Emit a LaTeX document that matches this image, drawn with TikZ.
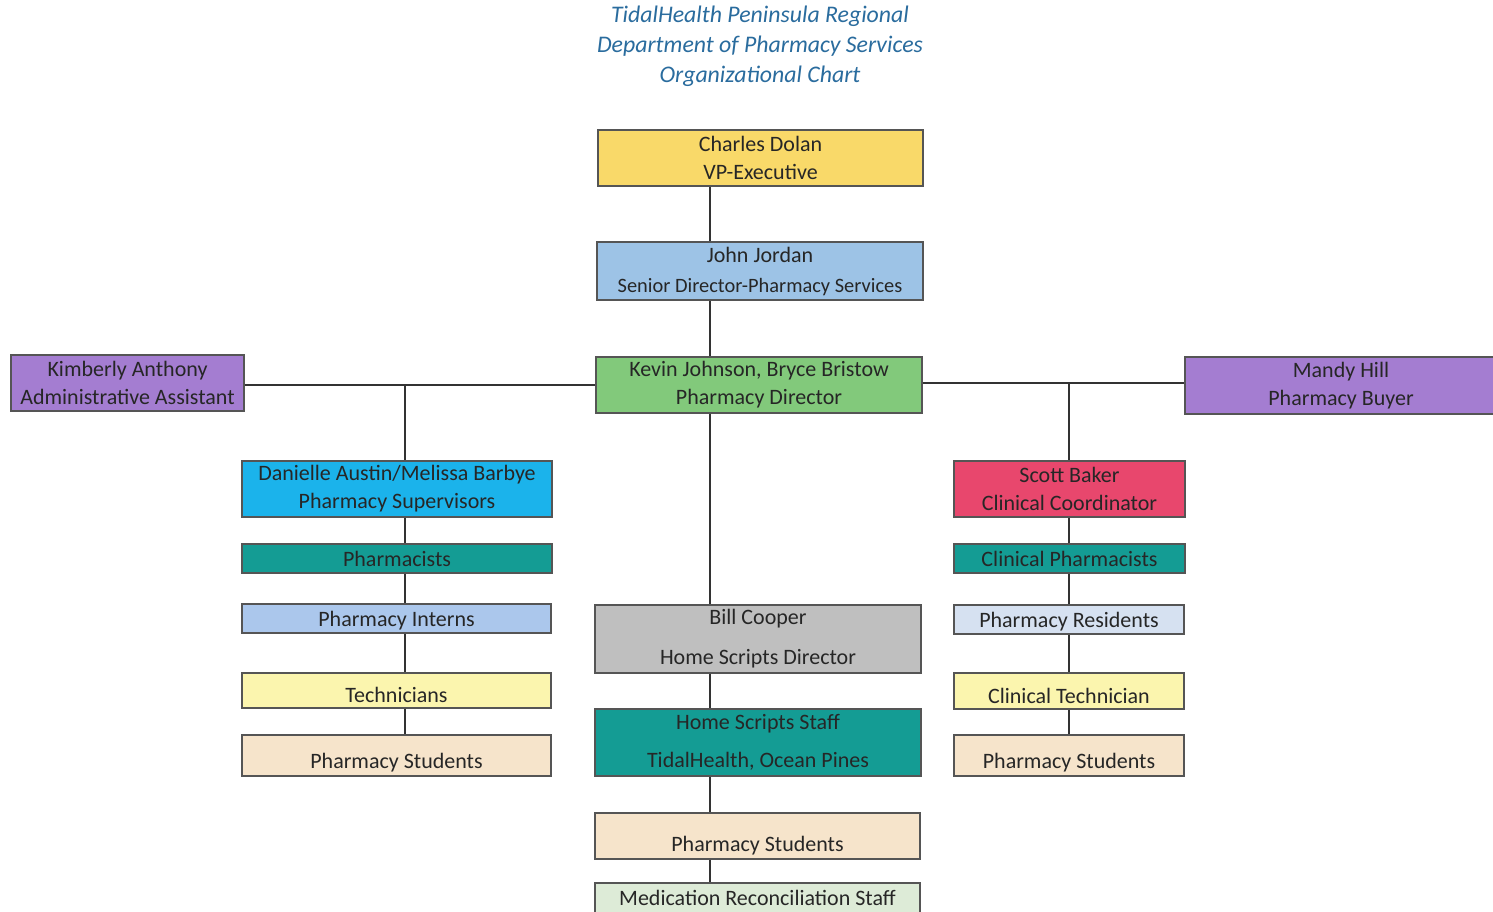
\documentclass[tikz,border=0pt]{standalone}
\usepackage{fontspec}
\setmainfont{Carlito}
\definecolor{cyellow}{HTML}{F9D969}
\definecolor{cjohn}{HTML}{9DC3E6}
\definecolor{cgreen}{HTML}{82C97B}
\definecolor{cpurple}{HTML}{A47DD1}
\definecolor{ccyan}{HTML}{1BB3EB}
\definecolor{cteal}{HTML}{149C94}
\definecolor{cintern}{HTML}{ABC7EC}
\definecolor{ctech}{HTML}{FBF5AE}
\definecolor{cstud}{HTML}{F6E4CB}
\definecolor{cgray}{HTML}{BFBFBF}
\definecolor{cred}{HTML}{E8476D}
\definecolor{cres}{HTML}{D6E1F1}
\definecolor{cmed}{HTML}{DDEBD7}
\definecolor{boxline}{HTML}{555555}
\definecolor{txt}{HTML}{262626}
\definecolor{ctitle}{HTML}{2A6C9E}
\definecolor{wire}{HTML}{333333}
\newcommand\lo[2]{\raisebox{-#1}[\height][\depth]{#2}}
\begin{document}
\begin{tikzpicture}[x=0.5pt,y=-0.5pt,
  box/.style={draw=boxline, line width=0.6pt, inner sep=0pt, align=center,
    font=\fontsize{11}{14}\selectfont, text=txt},
  sz/.style 2 args={minimum width=#1*0.5pt, minimum height=#2*0.5pt},
  wirestyle/.style={draw=wire, line width=1pt},
  titlestyle/.style={align=center, text=ctitle, font=\fontsize{11.9}{15}\selectfont\itshape, inner sep=0pt}]
\useasboundingbox (0,0) rectangle (1493,911);
\clip (0,0) rectangle (1493,911);
\fill[white] (0,0) rectangle (1493,911);

\node[titlestyle] (title) at (760,46) {TidalHealth Peninsula Regional\\Department of Pharmacy Services\\Organizational Chart};

\coordinate (vx) at (710,0);
\coordinate (lx) at (405,0);
\coordinate (rx) at (1069,0);

\node[box, sz={325}{56}, fill=cyellow] (cd) at (760.5,158) {Charles Dolan\\VP-Executive};
\node[box, sz={326}{58}, fill=cjohn] (jj) at (760,271) {John Jordan\\[1pt]{\fontsize{10.2}{14}\selectfont Senior Director-Pharmacy Services}};
\node[box, sz={326}{56}, fill=cgreen] (pd) at (759,385) {Kevin Johnson, Bryce Bristow\\Pharmacy Director};
\node[box, sz={233}{56}, fill=cpurple] (ka) at (127.5,383) {Kimberly Anthony\\Administrative Assistant};
\node[box, sz={312}{57}, fill=cpurple] (mh) at (1341,385.5) {Mandy Hill\\Pharmacy Buyer};

\node[box, sz={310}{56}, fill=ccyan] (sup) at (397,489) {Danielle Austin/Melissa Barbye\\Pharmacy Supervisors};
\node[box, sz={310}{29}, fill=cteal] (ph) at (397,558.5) {Pharmacists};
\node[box, sz={309}{29}, fill=cintern] (pi) at (396.5,618.5) {\lo{1pt}{Pharmacy Interns}};
\node[box, sz={309}{35}, fill=ctech] (te) at (396.5,690.5) {\lo{2pt}{Technicians}};
\node[box, sz={309}{41}, fill=cstud] (ps1) at (396.5,755.5) {\lo{3.5pt}{Pharmacy Students}};

\node[box, sz={326}{68}, fill=cgray] (bc) at (758,639) {Bill Cooper\\[6pt]Home Scripts Director};
\node[box, sz={326}{67}, fill=cteal] (hs) at (758,742.5) {Home Scripts Staff\\[5pt]TidalHealth, Ocean Pines};
\node[box, sz={325}{46}, fill=cstud] (ps2) at (757.5,836) {\lo{5pt}{Pharmacy Students}};
\node[box, sz={325}{30}, fill=cmed] (mr) at (757.5,898) {Medication Reconciliation Staff};

\node[box, sz={231}{56}, fill=cred] (sb) at (1069.5,489) {Scott Baker\\Clinical Coordinator};
\node[box, sz={231}{29}, fill=cteal] (cp) at (1069.5,558.5) {Clinical Pharmacists};
\node[box, sz={230}{29}, fill=cres] (pr) at (1069,619.5) {\lo{1pt}{Pharmacy Residents}};
\node[box, sz={230}{36}, fill=ctech] (ct) at (1069,691) {\lo{2.5pt}{Clinical Technician}};
\node[box, sz={230}{41}, fill=cstud] (ps3) at (1069,755.5) {\lo{3.5pt}{Pharmacy Students}};

% centre spine
\draw[wirestyle] (cd.south -| vx) -- (jj.north -| vx);
\draw[wirestyle] (jj.south -| vx) -- (pd.north -| vx);
\draw[wirestyle] (pd.south -| vx) -- (bc.north -| vx);
\draw[wirestyle] (bc.south -| vx) -- (hs.north -| vx);
\draw[wirestyle] (hs.south -| vx) -- (ps2.north -| vx);
\draw[wirestyle] (ps2.south -| vx) -- (mr.north -| vx);
% horizontals
\draw[wirestyle] (ka.east |- pd.west) -- (pd.west);
\draw[wirestyle] (pd.east |- mh.west) ++(0,-2.5) coordinate (rh) -- (mh.west |- rh);
\draw[wirestyle] (lx |- pd.west) -- (sup.north -| lx);
\draw[wirestyle] (rx |- rh) -- (sb.north -| rx);
% left column
\draw[wirestyle] (sup.south -| lx) -- (ph.north -| lx);
\draw[wirestyle] (ph.south -| lx) -- (pi.north -| lx);
\draw[wirestyle] (pi.south -| lx) -- (te.north -| lx);
\draw[wirestyle] (te.south -| lx) -- (ps1.north -| lx);
% right column
\draw[wirestyle] (sb.south -| rx) -- (cp.north -| rx);
\draw[wirestyle] (cp.south -| rx) -- (pr.north -| rx);
\draw[wirestyle] (pr.south -| rx) -- (ct.north -| rx);
\draw[wirestyle] (ct.south -| rx) -- (ps3.north -| rx);
\end{tikzpicture}
\end{document}
